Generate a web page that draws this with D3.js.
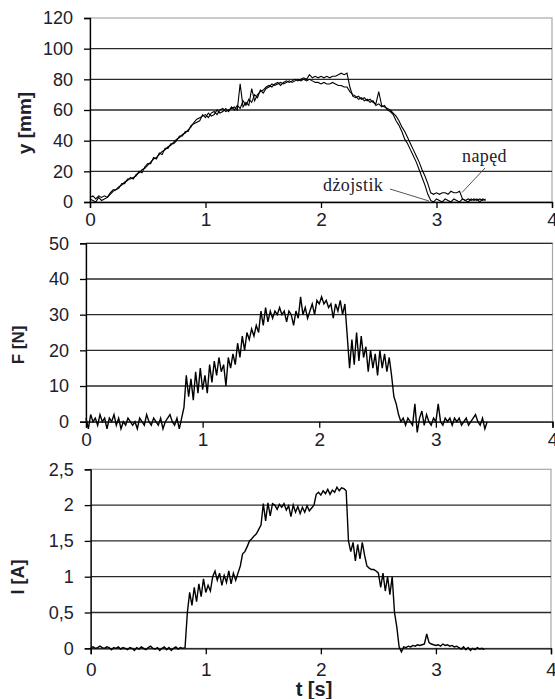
<!DOCTYPE html>
<html><head><meta charset="utf-8">
<script src="https://cdn.jsdelivr.net/npm/d3@7"></script>
<style>body{margin:0;background:#fff}svg{display:block}</style>
</head><body>
<script>
// ---- DATA ----
const dtY = 0.025;   // sample interval of position series [s]
const dtF = 0.02;    // sample interval of force / current series [s]
const xTicks = [0, 1, 2, 3, 4];
const yTicksPos = [0, 20, 40, 60, 80, 100, 120];
const yTicksF = [0, 10, 20, 30, 40, 50];
const yTicksI = [0, 0.5, 1, 1.5, 2, 2.5];

const naped = [3,4,2,4,3,4,3,6,8,8,10,11,13,14,16,15,18,19,21,22,24,26,28,29,31,33,34,36,37,39,41,42,44,45,47,49,52,54,55,56,57,55,58,59,57,60,61,59,60,61,62,60,77,62,65,63,74,66,70,72,73,75,76,75,77,78,76,78,79,78,79,80,79,80,81,80,83,81,82,81,82,81,82,81,82,82,83,84,83,84,75,69,68,69,67,68,66,67,65,64,72,63,62,61,60,58,56,53,49,46,42,38,34,30,26,21,17,12,6,5,6,5,6,6,5,7,6,6,7,2,1,2,1,2,1,2,1,2];
const dzojstik = [2,1,0,3,1,2,3,5,7,8,9,12,12,15,15,16,17,20,19,23,25,25,29,28,32,31,35,35,38,38,40,43,43,46,46,50,51,52,53,57,55,58,56,57,60,58,59,61,59,62,60,63,61,66,63,67,65,70,68,73,71,74,75,77,76,77,78,77,78,79,78,79,80,79,80,79,80,79,78,78,77,78,77,77,78,77,76,76,75,75,72,70,69,67,68,66,67,65,66,63,64,62,63,60,59,57,53,50,46,41,38,34,30,26,21,16,11,5,1,0,2,1,0,2,1,0,2,1,0,2,1,0,2,1,2,0,2,1];
const force = [1,-2,2,0,1,-1,2,0,1,-2,1,0,2,-1,1,-2,0,-1,1,0,-1,0,-2,1,0,-1,2,0,-1,1,0,-1,1,-2,0,1,2,0,-1,1,-2,1,
  4,13,7,12,6,14,8,15,9,13,8,16,11,17,13,18,14,16,10,18,15,19,16,22,18,24,20,25,23,26,24,27,25,31,27,32,28,31,29,31,30,32,30,31,28,31,30,27,31,29,35,30,32,29,31,33,30,34,33,35,33,34,32,33,29,33,31,34,30,33,
  24,15,23,16,25,17,24,18,21,14,20,15,19,13,20,15,19,14,18,13,7,5,2,0,1,-1,1,0,-1,5,-3,1,3,-1,2,0,-1,1,0,5,0,-1,1,0,1,-1,1,0,1,-1,0,1,-1,0,1,2,0,-1,1,-2,0];
const current = [0.01,0.02,0.00,0.01,0.03,0.01,0.00,0.02,0.01,-0.02,0.01,0.00,0.02,-0.01,0.01,0.00,-0.02,0.01,0.00,-0.03,0.01,-0.01,0.02,0.00,-0.02,0.01,0.03,0.00,-0.01,0.01,-0.03,0.00,0.02,-0.02,0.01,-0.03,0.00,0.02,-0.01,0.01,0.00,0.01,
  0.5,0.78,0.6,0.85,0.65,0.9,0.72,0.97,0.78,0.88,0.8,1.0,1.08,0.95,1.05,0.88,1.02,0.92,1.08,0.9,1.05,0.95,1.05,1.15,1.32,1.35,1.42,1.5,1.53,1.57,1.6,1.66,1.72,2.02,1.78,2.03,1.85,2.02,
  2.0,1.94,2.01,1.97,2.02,1.93,1.99,1.84,2.0,1.9,1.98,1.88,1.97,1.9,1.99,1.92,1.96,2.0,2.15,2.18,2.14,2.2,2.16,2.22,2.15,2.21,2.18,2.25,2.2,2.24,2.23,2.2,
  1.5,1.35,1.48,1.22,1.45,1.25,1.48,1.3,1.15,1.12,1.1,1.1,1.08,1.05,0.85,1.05,0.8,1.0,0.75,1.0,0.5,0.3,0.02,-0.05,0.02,0.01,0.03,0.02,0.04,0.03,0.05,0.04,0.05,0.06,0.2,0.08,0.06,0.05,0.04,0.05,0.03,0.06,0.04,0.05,0.03,0.04,0.02,0.03,0.01,-0.01,0.02,-0.02,0.01,-0.03,0.0,-0.02,0.01,-0.01,0.0,-0.02];

// ---- LAYOUT ----
const W = 555, H = 699;
const svg = d3.select("body").append("svg").attr("width", W).attr("height", H);
const txtColor = "#20202c";
const fmtComma = d => String(d).replace(".", ",");

function panel(cfg) {
  const x = d3.scaleLinear().domain([0, 4]).range([cfg.left, cfg.right]);
  const y = d3.scaleLinear().domain(cfg.yDomain).range([cfg.bottom, cfg.top]);
  const g = svg.append("g");
  // plot area border
  g.append("rect").attr("x", cfg.left).attr("y", cfg.top)
    .attr("width", cfg.right - cfg.left).attr("height", cfg.bottom - cfg.top)
    .attr("fill", "none").attr("stroke", "#a8a8a8").attr("stroke-width", 1.2);
  // gridlines
  g.selectAll(".grid").data(cfg.yTicks.filter(v => v !== cfg.yDomain[0] && (cfg.topGrid || v !== cfg.yDomain[1])))
    .enter().append("line")
    .attr("x1", cfg.left).attr("x2", cfg.right)
    .attr("y1", d => y(d)).attr("y2", d => y(d))
    .attr("stroke", "#2a2a2a").attr("stroke-width", 1.3);
  // y axis
  const ya = d3.axisLeft(y).tickValues(cfg.yTicks).tickSize(6).tickPadding(11).tickFormat(cfg.fmt || (d => d));
  const yg = g.append("g").attr("transform", `translate(${cfg.left},0)`).call(ya);
  yg.select(".domain").attr("stroke", "#000").attr("stroke-width", 1.3);
  yg.selectAll(".tick line").attr("stroke", "#000").attr("stroke-width", 1.3);
  yg.selectAll("text").attr("font-family", "Liberation Sans, Arial, sans-serif")
    .attr("font-size", 18).attr("fill", txtColor);
  // x axis
  const xa = d3.axisBottom(x).tickValues(xTicks).tickSize(6).tickPadding(cfg.xPad).tickFormat(d => d);
  const xg = g.append("g").attr("transform", `translate(0,${y(0)})`).call(xa);
  xg.select(".domain").attr("stroke", "#000").attr("stroke-width", 1.3);
  xg.selectAll(".tick line").attr("stroke", "#000").attr("stroke-width", 1.3);
  xg.selectAll("text").attr("font-family", "Liberation Sans, Arial, sans-serif")
    .attr("font-size", 19).attr("fill", txtColor);
  // y title
  g.append("text").attr("transform", `translate(${cfg.tx},${cfg.ty}) rotate(-90)`)
    .attr("text-anchor", "middle").attr("dominant-baseline", "central")
    .attr("font-family", "Liberation Sans, Arial, sans-serif").attr("font-weight", "bold")
    .attr("font-size", cfg.tsize).attr("fill", txtColor).text(cfg.title);
  return {x, y, g};
}

function drawSeries(p, values, dt, width) {
  const line = d3.line().x((d, i) => p.x(i * dt)).y(d => p.y(d));
  p.g.append("path").datum(values).attr("d", line)
    .attr("fill", "none").attr("stroke", "#000").attr("stroke-width", width)
    .attr("stroke-linejoin", "miter");
}

const p1 = panel({left: 90, right: 552, top: 18, bottom: 202, yDomain: [0, 120], yTicks: yTicksPos,
  title: "y [mm]", tx: 24, ty: 123, tsize: 19, xPad: 5});
drawSeries(p1, naped, dtY, 1.1);
drawSeries(p1, dzojstik, dtY, 1.1);

const p2 = panel({left: 86, right: 552.5, top: 243.3, bottom: 421.7, yDomain: [0, 50], yTicks: yTicksF,
  title: "F [N]", tx: 18, ty: 345, tsize: 17, xPad: 5, topGrid: true});
drawSeries(p2, force, dtF, 1.4);

const p3 = panel({left: 90.7, right: 551, top: 469.3, bottom: 648.3, yDomain: [0, 2.5], yTicks: yTicksI,
  title: "I [A]", tx: 18, ty: 577, tsize: 18, xPad: 8, fmt: fmtComma});
drawSeries(p3, current, dtF, 1.4);

// x title
svg.append("text").attr("x", 314).attr("y", 696).attr("text-anchor", "middle")
  .attr("font-family", "Liberation Sans, Arial, sans-serif").attr("font-weight", "bold")
  .attr("font-size", 20).attr("fill", txtColor).text("t [s]");

// annotations in panel 1
const serif = "Liberation Serif, Times New Roman, serif";
svg.append("text").attr("x", 323).attr("y", 191).attr("font-family", serif)
  .attr("font-size", 18).attr("letter-spacing", 0.4).attr("fill", txtColor).text("dżojstik");
svg.append("text").attr("x", 462).attr("y", 162).attr("font-family", serif)
  .attr("font-size", 18).attr("letter-spacing", 0.4).attr("fill", txtColor).text("napęd");
svg.append("line").attr("x1", 390).attr("y1", 189).attr("x2", 429).attr("y2", 201)
  .attr("stroke", "#555").attr("stroke-width", 1);
svg.append("line").attr("x1", 485).attr("y1", 168).attr("x2", 462).attr("y2", 192.5)
  .attr("stroke", "#555").attr("stroke-width", 1);
</script>
</body></html>
